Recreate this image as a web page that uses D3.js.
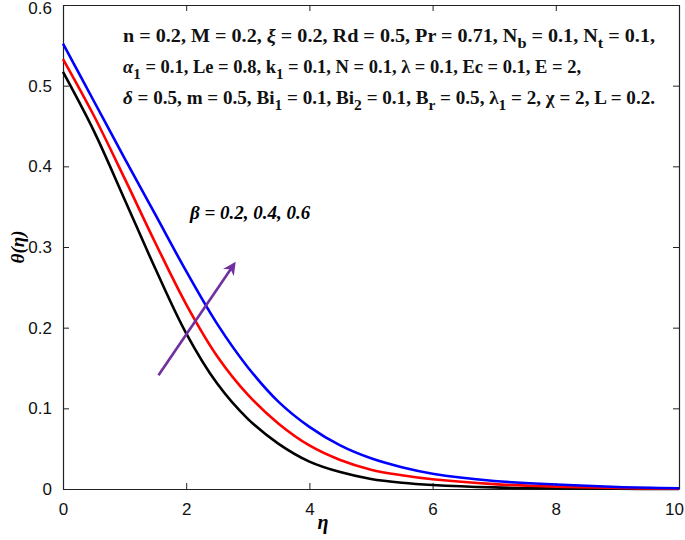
<!DOCTYPE html>
<html lang="en">
<head>
<meta charset="utf-8">
<title>theta profile</title>
<script src="https://d3js.org/d3.v7.min.js"></script>
<style>
  body { margin: 0; background: #fff; }
</style>
</head>
<body>
<script>
  // eta grid and theta(eta) curves
  var eta = [0, 0.5, 1, 1.5, 2, 2.5, 3, 3.5, 4, 4.5, 5, 5.5, 6, 7, 8, 9, 10];
  var beta02 = [0.517, 0.444, 0.359, 0.273, 0.193, 0.131, 0.087, 0.056, 0.034, 0.021, 0.0125, 0.0078, 0.005, 0.002, 0.0008, 0.0003, 0.0001];
  var beta04 = [0.533, 0.463, 0.385, 0.305, 0.229, 0.165, 0.117, 0.081, 0.054, 0.036, 0.024, 0.017, 0.012, 0.006, 0.003, 0.0012, 0.0004];
  var beta06 = [0.552, 0.481, 0.410, 0.340, 0.270, 0.205, 0.151, 0.108, 0.077, 0.054, 0.038, 0.027, 0.019, 0.010, 0.0055, 0.0025, 0.001];
  var seriesColors = ["#000000", "#ff0000", "#0000ff"];

  var xTicks = [0, 2, 4, 6, 8, 10];
  var yTicks = [0, 0.1, 0.2, 0.3, 0.4, 0.5, 0.6];

  // arrow (eta, theta) for the beta annotation
  var arrowFrom = [1.55, 0.141];
  var arrowTo = [2.78, 0.279];

  var w = 685, h = 540;
  var padL = 63, padR = 679, padT = 5, padB = 489;

  var x = d3.scaleLinear().domain([0, 10]).range([padL, padR]);
  var y = d3.scaleLinear().domain([0, 0.6]).range([padB, padT]);

  var svg = d3.select("body").append("svg").attr("width", w).attr("height", h);
  svg.append("rect").attr("width", w).attr("height", h).attr("fill", "white");

  var tickFont = "Liberation Sans, Arial, sans-serif";
  var serif = "Liberation Serif, Times New Roman, serif";

  // axes (ticks inward) plus mirrored top/right
  var gx = svg.append("g").attr("transform", "translate(0," + padB + ")")
    .call(d3.axisBottom(x).tickValues(xTicks).tickSizeInner(-6).tickSizeOuter(0).tickPadding(14).tickFormat(d3.format("d")));
  var gy = svg.append("g").attr("transform", "translate(" + padL + ",0)")
    .call(d3.axisLeft(y).tickValues(yTicks).tickSizeInner(-6).tickSizeOuter(0).tickPadding(11).tickFormat(function(d) { return d === 0 ? "0" : d3.format(".1f")(d); }));
  var gt = svg.append("g").attr("transform", "translate(0," + padT + ")")
    .call(d3.axisTop(x).tickValues(xTicks).tickSizeInner(-6).tickSizeOuter(0).tickFormat(""));
  var gr = svg.append("g").attr("transform", "translate(" + padR + ",0)")
    .call(d3.axisRight(y).tickValues(yTicks).tickSizeInner(-6).tickSizeOuter(0).tickFormat(""));

  [gx, gy, gt, gr].forEach(function(g) {
    g.select(".domain").attr("stroke", "#222").attr("stroke-width", 1.2);
    g.selectAll(".tick line").attr("stroke", "#222");
    g.selectAll(".tick text").attr("font-family", tickFont).attr("font-size", 17).attr("fill", "#111");
  });
  // keep the edge labels inside the picture
  gy.selectAll(".tick text").filter(function(d) { return d === 0.6; }).attr("dy", "0.5em");
  gx.selectAll(".tick text").filter(function(d) { return d === 10; }).attr("dx", -5);

  // curves
  var line = d3.line().curve(d3.curveCatmullRom.alpha(0.5))
    .x(function(d) { return x(d[0]); })
    .y(function(d) { return y(d[1]); });

  [beta02, beta04, beta06].forEach(function(vals, i) {
    svg.append("path")
      .datum(eta.map(function(e, j) { return [e, vals[j]]; }))
      .attr("d", line)
      .attr("fill", "none")
      .attr("stroke", seriesColors[i])
      .attr("stroke-width", 2.6);
  });

  // arrow
  svg.append("defs").append("marker")
    .attr("id", "head").attr("viewBox", "0 0 10 10")
    .attr("refX", 8).attr("refY", 5)
    .attr("markerWidth", 5).attr("markerHeight", 5)
    .attr("orient", "auto")
    .append("path").attr("d", "M0,0 L10,5 L0,10 L3,5 Z").attr("fill", "#7030a0");

  svg.append("line")
    .attr("x1", x(arrowFrom[0])).attr("y1", y(arrowFrom[1]))
    .attr("x2", x(arrowTo[0])).attr("y2", y(arrowTo[1]))
    .attr("stroke", "#7030a0").attr("stroke-width", 2.6)
    .attr("marker-end", "url(#head)");

  svg.append("text")
    .attr("x", 190).attr("y", 219)
    .attr("font-family", serif)
    .attr("font-weight", "bold").attr("font-style", "italic").attr("font-size", 19)
    .text("\u03b2 = 0.2, 0.4, 0.6");

  // parameter block
  var params = [
    [["n = 0.2,  M = 0.2, ", null], ["\u03be", "it"], [" = 0.2, Rd = 0.5, Pr = 0.71, N", null], ["b", "sub"], [" = 0.1, N", null], ["t", "sub"], [" = 0.1,", null]],
    [["\u03b1", "it"], ["1", "sub"], [" = 0.1, Le = 0.8, k", null], ["1", "sub"], [" = 0.1, N = 0.1, \u03bb = 0.1, Ec = 0.1, E = 2,", null]],
    [["\u03b4", "it"], [" = 0.5, m = 0.5, Bi", null], ["1", "sub"], [" = 0.1, Bi", null], ["2", "sub"], [" = 0.1, B", null], ["r", "sub"], [" = 0.5, \u03bb", null], ["1", "sub"], [" = 2, \u03c7 = 2, L = 0.2.", null]]
  ];
  var baselines = [42, 73, 104];
  var lineWidths = [532, null, 532];
  params.forEach(function(parts, i) {
    var t = svg.append("text").attr("x", 123).attr("y", baselines[i])
      .attr("font-family", serif).attr("font-weight", "bold").attr("font-size", 18.5).attr("fill", "#111");
    if (lineWidths[i]) t.attr("textLength", lineWidths[i]).attr("lengthAdjust", "spacingAndGlyphs");
    var shifted = false;
    parts.forEach(function(p) {
      var s = t.append("tspan").text(p[0]);
      if (p[1] === "sub") {
        s.attr("dy", 6).attr("font-size", 15);
        shifted = true;
      } else {
        s.attr("dy", shifted ? -6 : 0);
        shifted = false;
        if (p[1] === "it") s.attr("font-style", "italic");
      }
    });
  });

  // axis titles
  svg.append("text")
    .attr("x", 323).attr("y", 529).attr("text-anchor", "middle")
    .attr("font-family", serif).attr("font-weight", "bold").attr("font-style", "italic").attr("font-size", 20)
    .text("\u03b7");
  svg.append("text")
    .attr("transform", "translate(24,247) rotate(-90)").attr("text-anchor", "middle")
    .attr("font-family", serif).attr("font-weight", "bold").attr("font-style", "italic").attr("font-size", 19)
    .text("\u03b8(\u03b7)");
</script>
</body>
</html>
